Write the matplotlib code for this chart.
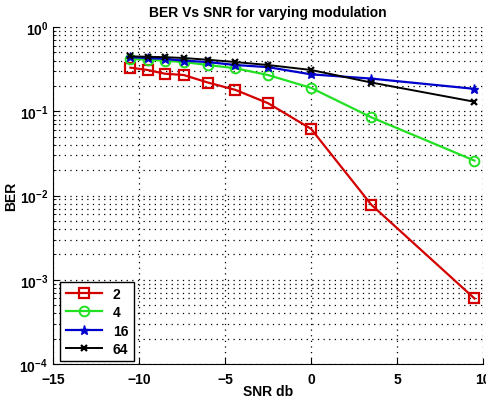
'''
BER vs SNR for varying modulation order, log scale.
'''

import matplotlib
matplotlib.use('Agg')
import matplotlib.pyplot as plt
from matplotlib.ticker import LogLocator, NullFormatter

# SNR points (dB) and BER for each modulation order
snr_db = [-10.5, -9.5, -8.5, -7.4, -6.0, -4.4, -2.5, 0.0, 3.5, 9.5]
ber_2 = [0.33, 0.31, 0.28, 0.27, 0.22, 0.18, 0.125, 0.062, 0.0078, 0.0006]
ber_4 = [0.42, 0.41, 0.40, 0.385, 0.355, 0.325, 0.27, 0.19, 0.085, 0.026]
ber_16 = [0.44, 0.43, 0.42, 0.40, 0.385, 0.355, 0.335, 0.275, 0.245, 0.185]
ber_64 = [0.45, 0.445, 0.44, 0.43, 0.41, 0.385, 0.355, 0.31, 0.22, 0.13]
labels = ['2', '4', '16', '64']


def main() -> None:
    plt.rcParams['font.family'] = ['Liberation Sans', 'DejaVu Sans']
    plt.rcParams['font.weight'] = 'bold'
    plt.rcParams['mathtext.default'] = 'bf'

    fig = plt.figure(figsize=(4.86, 4.02), dpi=100)
    ax = fig.add_axes([0.109, 0.092, 0.885, 0.838])

    ax.plot(snr_db, ber_2, '-s', color='#d40000', linewidth=1.6, markersize=7,
            markerfacecolor='none', markeredgewidth=1.6, label=labels[0])
    ax.plot(snr_db, ber_4, '-o', color='#22e022', linewidth=1.6, markersize=7,
            markerfacecolor='none', markeredgewidth=1.4, label=labels[1])
    ax.plot(snr_db, ber_16, '-*', color='#0000cc', linewidth=1.6, markersize=6.5,
            label=labels[2])
    ax.plot(snr_db, ber_64, '-x', color='black', linewidth=1.4, markersize=4.5,
            markeredgewidth=1.6, label=labels[3])

    ax.set_yscale('log')
    ax.set_xlim(-15, 10)
    ax.set_ylim(1e-4, 1)
    ax.set_xticks([-15, -10, -5, 0, 5, 10])
    ax.yaxis.set_major_locator(LogLocator(base=10, numticks=10))
    ax.yaxis.set_minor_locator(LogLocator(base=10, subs=range(2, 10), numticks=20))
    ax.yaxis.set_minor_formatter(NullFormatter())

    dots = (0, (1, 3.5))
    ax.grid(True, which='major', axis='x', linestyle=dots, color='black', linewidth=0.9)
    ax.grid(True, which='both', axis='y', linestyle=dots, color='black', linewidth=0.9)
    ax.tick_params(which='both', direction='in', labelsize=10)
    ax.tick_params(which='major', length=4)
    ax.tick_params(which='minor', length=2)
    ax.tick_params(axis='x', pad=6)
    ax.spines['top'].set_visible(False)
    ax.spines['right'].set_visible(False)

    ax.set_title('BER Vs SNR for varying modulation', fontsize=10, fontweight='bold', pad=8)
    ax.set_xlabel('SNR db', fontsize=10, fontweight='bold')
    ax.xaxis.set_label_coords(0.5, -0.058)
    ax.set_ylabel('BER', fontsize=10, fontweight='bold')
    ax.yaxis.set_label_coords(-0.082, 0.5)

    leg = ax.legend(loc='lower left', fancybox=False, edgecolor='black',
                    framealpha=1, fontsize=10, handlelength=2.6,
                    borderaxespad=0.2, labelspacing=0.3, borderpad=0.4,
                    bbox_to_anchor=(0.01, 0.0))
    leg.get_frame().set_linewidth(1.0)

    fig.savefig('out.png', dpi=100)
    plt.close(fig)


if __name__ == '__main__':
    main()
